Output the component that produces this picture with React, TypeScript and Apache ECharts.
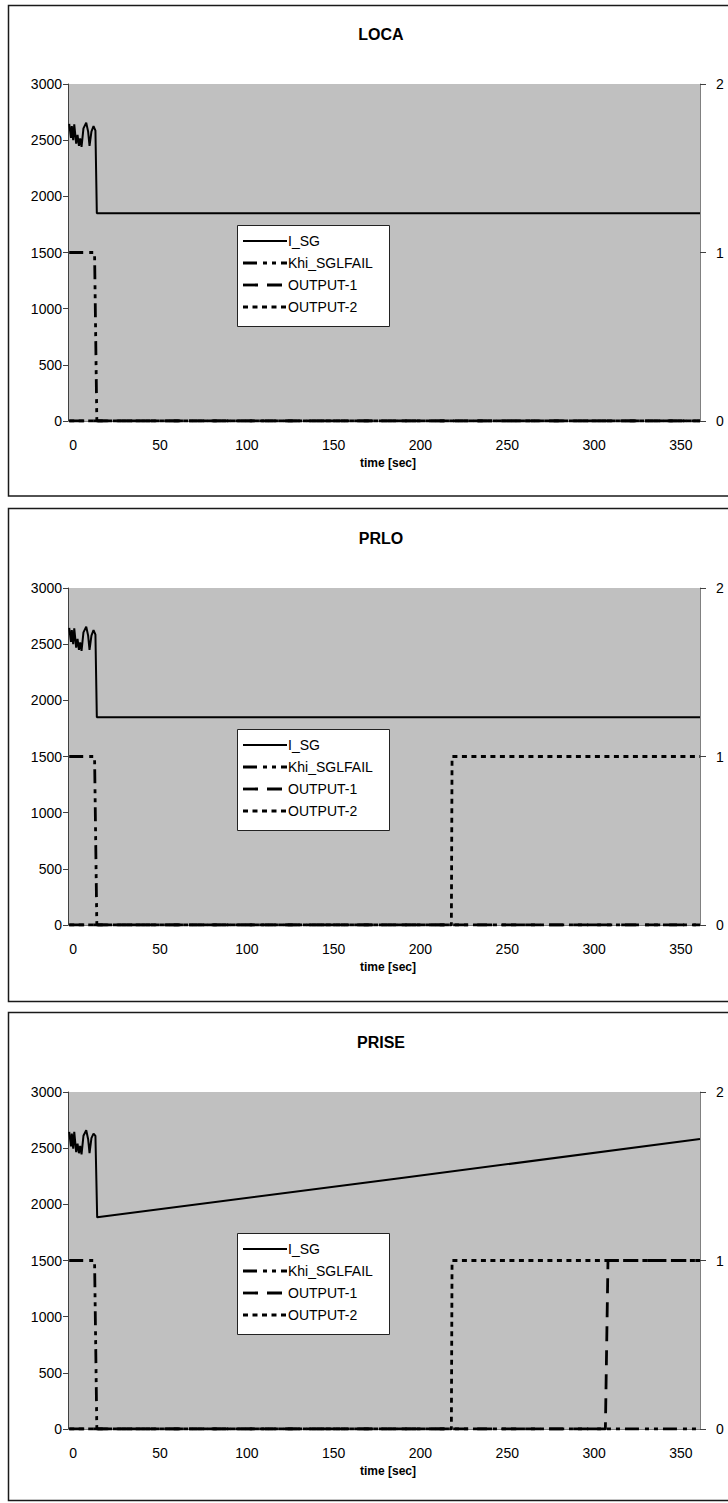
import React, { useEffect, useRef } from "react";
import * as echarts from "echarts";

// ---------- data ----------
const PANEL_TITLES = ["LOCA", "PRLO", "PRISE"];
const SERIES_NAMES = ["I_SG", "Khi_SGLFAIL", "OUTPUT-1", "OUTPUT-2"];
const X_AXIS_NAME = "time [sec]";
const TIME_TICKS = [0, 50, 100, 150, 200, 250, 300, 350];
const X_MIN = -3;
const X_MAX = 361;
const LEFT_MAX = 3000;
const LEFT_INTERVAL = 500;
const RIGHT_MAX = 2;
const RIGHT_INTERVAL = 1;

// I_SG (left axis)
const LOCA_ISG_T = [-2.3, -1.3, -0.8, 0, 0.6, 1.7, 2.5, 3.3, 4, 4.8, 5.9, 7.5, 8.6, 9.4, 10.5, 11.7, 12.8, 13.6, 361];
const LOCA_ISG_V = [2644, 2520, 2626, 2500, 2640, 2470, 2546, 2450, 2516, 2440, 2605, 2655, 2576, 2450, 2576, 2625, 2585, 1849, 1849];
const PRLO_ISG_T = [-2.3, -1.3, -0.8, 0, 0.6, 1.7, 2.5, 3.3, 4, 4.8, 5.9, 7.5, 8.6, 9.4, 10.5, 11.7, 12.8, 13.6, 361];
const PRLO_ISG_V = [2644, 2520, 2626, 2500, 2640, 2470, 2546, 2450, 2516, 2440, 2605, 2655, 2576, 2450, 2576, 2625, 2585, 1849, 1849];
const PRISE_ISG_T = [-2.3, -1.3, -0.8, 0, 0.6, 1.7, 2.5, 3.3, 4, 4.8, 5.9, 7.5, 8.6, 9.4, 10.5, 11.7, 12.8, 13.8, 188, 361];
const PRISE_ISG_V = [2646, 2515, 2630, 2495, 2645, 2465, 2540, 2455, 2520, 2445, 2610, 2660, 2580, 2455, 2590, 2630, 2610, 1884, 2232, 2581];

// Khi_SGLFAIL (right axis)
const LOCA_KHI_T = [-2.3, 12.3, 13.6, 361];
const LOCA_KHI_V = [1, 1, 0, 0];
const PRLO_KHI_T = [-2.3, 12.3, 13.6, 361];
const PRLO_KHI_V = [1, 1, 0, 0];
const PRISE_KHI_T = [-2.3, 12.3, 13.6, 361];
const PRISE_KHI_V = [1, 1, 0, 0];

// OUTPUT-1 (right axis)
const LOCA_OUT1_T = [-2.3, 361];
const LOCA_OUT1_V = [0, 0];
const PRLO_OUT1_T = [-2.3, 361];
const PRLO_OUT1_V = [0, 0];
const PRISE_OUT1_T = [-2.3, 306.5, 308, 361];
const PRISE_OUT1_V = [0, 0, 1, 1];

// OUTPUT-2 (right axis)
const LOCA_OUT2_T = [-2.3, 361];
const LOCA_OUT2_V = [0, 0];
const PRLO_OUT2_T = [-2.3, 217.8, 218.2, 361];
const PRLO_OUT2_V = [0, 0, 1, 1];
const PRISE_OUT2_T = [-2.3, 217.8, 218.2, 361];
const PRISE_OUT2_V = [0, 0, 1, 1];

const PANEL_DATA = [
  [[LOCA_ISG_T, LOCA_ISG_V], [LOCA_KHI_T, LOCA_KHI_V], [LOCA_OUT1_T, LOCA_OUT1_V], [LOCA_OUT2_T, LOCA_OUT2_V]],
  [[PRLO_ISG_T, PRLO_ISG_V], [PRLO_KHI_T, PRLO_KHI_V], [PRLO_OUT1_T, PRLO_OUT1_V], [PRLO_OUT2_T, PRLO_OUT2_V]],
  [[PRISE_ISG_T, PRISE_ISG_V], [PRISE_KHI_T, PRISE_KHI_V], [PRISE_OUT1_T, PRISE_OUT1_V], [PRISE_OUT2_T, PRISE_OUT2_V]],
];

// ---------- styles ----------
const FONT = "'Liberation Sans', Arial, sans-serif";
const DASHES: any[] = [null, [14, 6, 4, 5, 4, 5], [15, 9], [5, 4.5]];
const WIDTHS = [2, 2.8, 2.8, 2.8];
const PANEL_STEP = 504;
const PANEL_BOXES = [
  { y: 5.5, h: 490.5 },
  { y: 508.5, h: 493 },
  { y: 1012.5, h: 488 },
];

function zip(t: number[], v: number[]) {
  return t.map((x, i) => [x, v[i]]);
}

function buildOption() {
  const grid: any[] = [];
  const xAxis: any[] = [];
  const yAxis: any[] = [];
  const series: any[] = [];
  const graphic: any[] = [];

  PANEL_TITLES.forEach((title, i) => {
    const off = PANEL_STEP * i;
    grid.push({
      left: 68,
      top: 84 + off,
      width: 632,
      height: 337,
      show: true,
      backgroundColor: "#c0c0c0",
      borderWidth: 0,
      containLabel: false,
    });
    xAxis.push({
      type: "value",
      gridIndex: i,
      min: X_MIN,
      max: X_MAX,
      axisLine: { show: true, onZero: false, lineStyle: { color: "#808080", width: 1 } },
      axisTick: { show: false },
      splitLine: { show: false },
      axisLabel: {
        customValues: TIME_TICKS,
        margin: 17,
        fontSize: 14,
        color: "#000",
        fontFamily: FONT,
        formatter: (v: number) => String(v),
      },
    });
    yAxis.push({
      type: "value",
      gridIndex: i,
      position: "left",
      min: 0,
      max: LEFT_MAX,
      interval: LEFT_INTERVAL,
      axisLine: { show: true, onZero: false, lineStyle: { color: "#404040", width: 1 } },
      axisTick: { show: true, length: 5, inside: false, lineStyle: { color: "#404040" } },
      splitLine: { show: false },
      axisLabel: {
        margin: 6,
        fontSize: 14,
        color: "#000",
        fontFamily: FONT,
        formatter: (v: number) => String(v),
      },
    });
    yAxis.push({
      type: "value",
      gridIndex: i,
      position: "right",
      min: 0,
      max: RIGHT_MAX,
      interval: RIGHT_INTERVAL,
      axisLine: { show: true, onZero: false, lineStyle: { color: "#808080", width: 1 } },
      axisTick: { show: true, length: 6, inside: false, lineStyle: { color: "#404040" } },
      splitLine: { show: false },
      axisLabel: {
        margin: 16,
        fontSize: 14,
        color: "#000",
        fontFamily: FONT,
        formatter: (v: number) => String(v),
      },
    });

    SERIES_NAMES.forEach((name, k) => {
      const [t, v] = PANEL_DATA[i][k];
      series.push({
        name,
        type: "line",
        xAxisIndex: i,
        yAxisIndex: k === 0 ? 2 * i : 2 * i + 1,
        data: zip(t, v),
        symbol: "none",
        showSymbol: false,
        clip: true,
        lineStyle: {
          color: "#000",
          width: WIDTHS[k],
          type: DASHES[k] ? DASHES[k] : "solid",
          cap: "butt",
        },
        itemStyle: { color: "#000" },
        z: 2 + k,
      });
    });

    // legend box drawn as graphic (Excel-like line samples)
    const lx = 237.5;
    const ly = 225.5 + off;
    graphic.push({
      type: "rect",
      silent: true,
      z: 20,
      shape: { x: lx, y: ly, width: 152, height: 101 },
      style: { fill: "#fff", stroke: "#222", lineWidth: 1 },
    });
    SERIES_NAMES.forEach((name, k) => {
      const cy = 241 + 22 * k + off;
      graphic.push({
        type: "line",
        silent: true,
        z: 21,
        shape: { x1: 243, y1: cy, x2: 287, y2: cy },
        style: {
          stroke: "#000",
          lineWidth: WIDTHS[k],
          lineDash: DASHES[k] || null,
          lineCap: "butt",
        },
      });
      graphic.push({
        type: "text",
        silent: true,
        z: 21,
        x: 288,
        y: cy,
        style: {
          text: name,
          align: "left",
          verticalAlign: "middle",
          fontSize: 14,
          fontFamily: FONT,
          fill: "#000",
        },
      });
    });

    graphic.push({
      type: "rect",
      silent: true,
      z: 0,
      shape: { x: 8.5, y: PANEL_BOXES[i].y, width: 800, height: PANEL_BOXES[i].h },
      style: { fill: "none", stroke: "#1a1a1a", lineWidth: 1.5 },
    });
    graphic.push({
      type: "text",
      silent: true,
      z: 10,
      x: 381,
      y: 34 + off,
      style: {
        text: title,
        align: "center",
        verticalAlign: "middle",
        fontSize: 16,
        fontWeight: "bold",
        fontFamily: FONT,
        fill: "#000",
      },
    });
    graphic.push({
      type: "text",
      silent: true,
      z: 10,
      x: 388,
      y: 463 + off,
      style: {
        text: X_AXIS_NAME,
        align: "center",
        verticalAlign: "middle",
        fontSize: 12,
        fontWeight: "bold",
        fontFamily: FONT,
        fill: "#000",
      },
    });
  });

  return {
    animation: false,
    backgroundColor: "#fff",
    grid,
    xAxis,
    yAxis,
    series,
    graphic: { elements: graphic },
  };
}

export default function App() {
  const ref = useRef<HTMLDivElement>(null);
  useEffect(() => {
    if (!ref.current) return;
    const chart = echarts.init(ref.current, null, { renderer: "svg" });
    chart.setOption(buildOption() as any);
    return () => chart.dispose();
  }, []);
  return (
    <div
      ref={ref}
      style={{ position: "absolute", left: 0, top: 0, width: 728, height: 1503 }}
    />
  );
}
